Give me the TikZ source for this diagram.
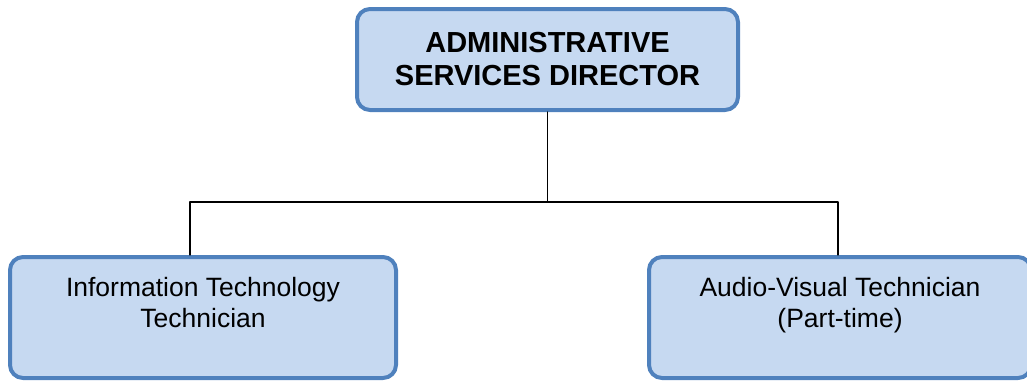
\documentclass[tikz,border=0pt]{standalone}
\usepackage{fontspec}
\setmainfont{Liberation Sans}
\definecolor{postfill}{HTML}{C6D9F1}
\definecolor{postline}{HTML}{4F81BD}
\begin{document}
\begin{tikzpicture}[x=0.5pt, y=-0.5pt, line join=round, line cap=round,
	post/.style={draw=postline, fill=postfill, line width=2pt, rounded corners=6.5pt, align=center},
	staff/.style={post, minimum height=60.5pt, text depth=14.7pt, font=\fontsize{13.25}{15.5}\selectfont},
	link/.style={line width=0.6pt}]
	\def\busy{202} % hoehe der querlinie
	\useasboundingbox (0,0) rectangle (1027,381);
	\node[post, minimum width=190.5pt, minimum height=50.5pt, font=\fontsize{14.5}{16.5}\selectfont\bfseries] (dir) at (547.5,59.5) {ADMINISTRATIVE\\SERVICES DIRECTOR};
	\node[staff, minimum width=193pt] (it) at (203,317.5) {Information Technology\\Technician};
	\node[staff, minimum width=191pt] (av) at (840,317.5) {Audio-Visual Technician\\(Part-time)};
	\coordinate (bus) at (dir.south |- 0,\busy);
	\draw[link] (dir.south) -- (bus);
	\draw[link] (bus) -| ([xshift=-6.5pt]it.north);
	\draw[link] (bus) -| ([xshift=-1pt]av.north);
\end{tikzpicture}
\end{document}
